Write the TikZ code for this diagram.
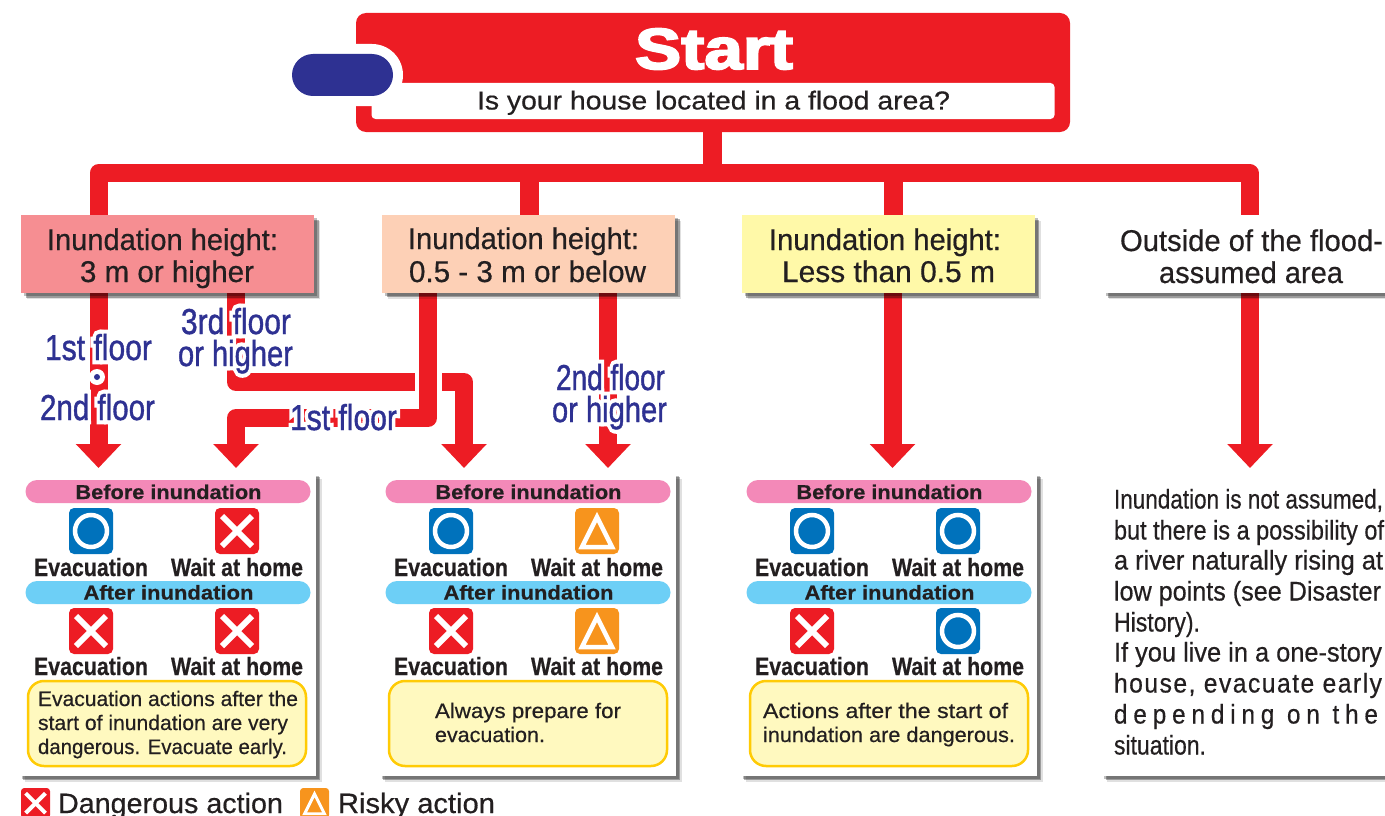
\documentclass[tikz,border=0pt]{standalone}
\usepackage{graphicx}
\usepackage{fontspec}
\setmainfont[FakeBold=0.5]{Liberation Sans}
\newfontfamily\halofont[FakeBold=24]{Liberation Sans}
\newfontfamily\navyfont[FakeBold=1.2]{Liberation Sans}
\newfontfamily\heavyfont[UprightFont=* Bold,FakeBold=3]{Liberation Sans}
\usetikzlibrary{arrows.meta,shadows,backgrounds}
\definecolor{flowred}{HTML}{ED1C24}
\definecolor{navy}{HTML}{2E3192}
\definecolor{ink}{HTML}{231F20}
\definecolor{okblue}{HTML}{0072BC}
\definecolor{warnorange}{HTML}{F7941D}
\definecolor{pinkpill}{HTML}{F389B8}
\definecolor{bluepill}{HTML}{6DCFF6}
\definecolor{notefill}{HTML}{FFF9BF}
\definecolor{noteline}{HTML}{FFCB05}
\tikzset{
  lab/.style={inner sep=0pt,outer sep=0pt,anchor=base west,text=ink},
  softshadow/.style={
    general shadow={fill=black,fill opacity=.12,shadow xshift=6pt,shadow yshift=-6pt},
    general shadow={fill=black,fill opacity=.3,shadow xshift=4.5pt,shadow yshift=-4.5pt},
    general shadow={fill=black,fill opacity=.25,shadow xshift=3pt,shadow yshift=-3pt}},
  headbox/.style={inner sep=0pt,outer sep=0pt,minimum width=293pt,minimum height=78pt,softshadow},
  panelbox/.style={inner sep=0pt,outer sep=0pt,minimum width=297pt,minimum height=303pt,fill=white,softshadow},
  pill/.style={inner sep=0pt,outer sep=0pt,minimum width=285pt,minimum height=23pt,rounded corners=11.5pt},
  notebox/.style={inner sep=0pt,outer sep=0pt,minimum width=278pt,minimum height=85pt,fill=notefill,draw=noteline,line width=2.5pt,rounded corners=16pt},
  flowline/.style={draw=flowred,line width=18pt,line join=round},
  flowarrow/.style={flowline,-{Triangle[length=24pt,width=44pt]}},
}
% name, x, baseline, width, size, text
\newcommand\tl[6]{\node[lab,font=\fontsize{#5}{#5}\selectfont] (#1) at (#2,#3) {\resizebox{#4pt}{\height}{#6}};}
% blue label with white halo: name, x, baseline, width, text
\newcommand\hl[5]{\node[lab,font=\fontsize{36}{36}\selectfont] (#1) at (#2,#3) {\resizebox{#4pt}{\height}{\rlap{\color{white}\halofont #5}\textcolor{navy}{\navyfont #5}}};}
% icon: left, top, scale
\newcommand\iconX[3]{\begin{scope}[shift={(#1,#2)},scale=#3]
  \fill[flowred,rounded corners=5pt*#3] (0,0) rectangle (44,46);
  \draw[white,line width=#3*6pt] (7,8) -- (37,38) (37,8) -- (7,38);
\end{scope}}
\newcommand\iconO[3]{\begin{scope}[shift={(#1,#2)},scale=#3]
  \fill[okblue,rounded corners=5pt*#3] (0,0) rectangle (44,46);
  \draw[white,line width=#3*4.5pt] (22,23) circle[radius=16];
\end{scope}}
\newcommand\iconT[3]{\begin{scope}[shift={(#1,#2)},scale=#3]
  \fill[warnorange,rounded corners=5pt*#3] (0,0) rectangle (44,46);
  \draw[white,line width=#3*4.5pt,miter limit=10] (22,9) -- (37,39) -- (7,39) -- cycle;
\end{scope}}
% result panel: id, dx-panel, dx-content, icon top right, icon bottom right
\newcommand\respanel[5]{
  \node[panelbox] (panel#1) at ({167+#2},624) {};
  \begin{scope}[shift={(#3,0)}]
    \node[pill,fill=pinkpill] (before#1) at (168,491.5) {};
    \node[pill,fill=bluepill] (after#1) at (168,592.5) {};
    \tl{beforet#1}{75.5}{499}{186}{20}{\bfseries Before inundation}
    \tl{aftert#1}{83.5}{599.5}{170}{20}{\bfseries After inundation}
    \iconO{69}{508}{1}
    #4{215}{508}{1}
    \iconX{69}{608}{1}
    #5{215}{608}{1}
    \tl{eva#1}{34}{576}{114}{25}{\bfseries Evacuation}
    \tl{waita#1}{171}{576}{132}{25}{\bfseries Wait at home}
    \tl{evb#1}{34}{675}{114}{25}{\bfseries Evacuation}
    \tl{waitb#1}{171}{675}{132}{25}{\bfseries Wait at home}
    \node[notebox] (note#1) at ({167+min(#3,1)},723.5) {};
  \end{scope}
}
\begin{document}
\begin{tikzpicture}[x=1pt,y=-1pt]
\useasboundingbox (0,0) rectangle (1385,816);
\clip (0,0) rectangle (1385,816);
% start block
\node[inner sep=0pt,outer sep=0pt,minimum width=714pt,minimum height=119pt,fill=flowred,rounded corners=10pt] (start) at (713,72.5) {};
\node[inner sep=0pt,outer sep=0pt,minimum width=683pt,minimum height=36pt,fill=white,rounded corners=4pt] (question) at (713,101) {};
\node[inner sep=0pt,outer sep=0pt,minimum width=121pt,minimum height=62pt,fill=white,rounded corners=31pt] (pillhalo) at (342.5,75) {};
\node[inner sep=0pt,outer sep=0pt,minimum width=101pt,minimum height=42pt,fill=navy,rounded corners=21pt] (pillblue) at (342.5,75) {};
\node[lab,text=white,font=\fontsize{58}{58}\selectfont] (startt) at (635,69) {\resizebox{158pt}{\height}{\heavyfont Start}};
\tl{questiont}{477}{109.5}{473}{26}{Is your house located in a flood area?}
% heading boxes
\node[headbox,fill={rgb,255:red,246;green,142;blue,146}] (h1) at (167.5,254) {};
\node[headbox,fill={rgb,255:red,253;green,208;blue,182}] (h2) at (528.5,253.5) {};
\node[headbox,fill={rgb,255:red,255;green,249;blue,168}] (h3) at (888,254) {};
\node[headbox,fill=white,minimum width=300pt] (h4) at (1253,254) {};
\tl{h1a}{47}{250}{231}{30}{Inundation height:}
\tl{h1b}{80}{282}{174}{30}{3 m or higher}
\tl{h2a}{408}{249}{231}{30}{Inundation height:}
\tl{h2b}{409}{282}{237}{30}{0.5 - 3 m or below}
\tl{h3a}{769}{250}{232}{30}{Inundation height:}
\tl{h3b}{782}{282}{213}{30}{Less than 0.5 m}
\tl{h4a}{1120}{251}{263}{30}{Outside of the flood-}
\tl{h4b}{1159}{283}{184}{30}{assumed area}
% connector anchors
\coordinate (stem) at (712.5,173);
\coordinate (barL) at (98.5,173);
\coordinate (barM1) at (529.5,173);
\coordinate (barM2) at (893,173);
\coordinate (barR) at (1249.5,173);
\coordinate (tip1) at (98.5,468);
\coordinate (tip2) at (236,468);
\coordinate (tip3) at (464,468);
\coordinate (tip4) at (608,468);
\coordinate (tip5) at (892.5,468);
\coordinate (tip6) at (1250,468);
\coordinate (upper) at (236,382);
\coordinate (hopL) at (415,382);
\coordinate (hopR) at (442,382);
\coordinate (hopC) at (464,382);
\coordinate (lower) at (428,418);
\coordinate (lowerB) at (236,418);
\begin{pgfonlayer}{background}
  \draw[flowline] (barL |- h1.north) -- (barL) -- (barR) -- (barR |- h4.north);
  \draw[flowred,line width=19pt] (start.south -| stem) -- (stem);
  \draw[flowred,line width=19pt] (barM1) -- (barM1 |- h2.north);
  \draw[flowred,line width=19pt] (barM2) -- (barM2 |- h3.north);
  \draw[flowarrow] (tip1 |- h1.south) -- (tip1);
  \draw[flowline] (upper |- h1.south) -- (upper) -- (hopL);
  \draw[flowarrow] (hopR) -- (hopC) -- (tip3);
  \draw[flowarrow] (lower |- h2.south) -- (lower) -- (lowerB) -- (tip2);
  \draw[flowarrow] (tip4 |- h2.south) -- (tip4);
  \draw[flowarrow] (tip5 |- h3.south) -- (tip5);
  \draw[flowarrow] (tip6 |- h4.south) -- (tip6);
\end{pgfonlayer}
% floor labels
\hl{f1}{45}{360}{107}{1st floor}
\hl{f2}{40}{420}{115}{2nd floor}
\hl{f3b}{178}{366}{115}{or higher}
\hl{f3}{181}{334}{110}{3rd floor}
\hl{f4}{290}{430}{107}{1st floor}
\hl{f5b}{552}{422}{115}{or higher}
\hl{f5}{556}{390}{109}{2nd floor}
\node[circle,fill=white,inner sep=0pt,minimum size=16pt] (dotw) at (97,377) {};
\node[circle,fill=navy,inner sep=0pt,minimum size=6pt] (dotb) at (97,377) {};
% panels
\respanel{a}{0}{0}{\iconX}{\iconX}
\respanel{b}{360}{360}{\iconT}{\iconT}
\respanel{c}{721}{721}{\iconO}{\iconO}
\tl{na1}{38}{706}{260}{21}{Evacuation actions after the}
\tl{na2}{38}{730}{250}{21}{start of inundation are very}
\tl{na3}{38}{754}{249}{21}{dangerous. Evacuate early.}
\tl{nb1}{435}{718}{186}{21}{Always prepare for}
\tl{nb2}{435}{742}{110}{21}{evacuation.}
\tl{nc1}{763}{718}{245}{21}{Actions after the start of}
\tl{nc2}{763}{742}{252}{21}{inundation are dangerous.}
% outside panel
\node[panelbox,minimum width=310pt] (paneld) at (1256,624) {};
\tl{d1}{1114}{508.5}{269}{27}{Inundation is not assumed,}
\tl{d2}{1114}{539.5}{270}{27}{but there is a possibility of}
\tl{d3}{1114}{569.5}{269}{27}{a river naturally rising at}
\tl{d4}{1114}{600.5}{267}{27}{low points (see Disaster}
\tl{d5}{1114}{631.5}{86}{27}{History).}
\tl{d6}{1114}{661.5}{268}{27}{If you live in a one-story}
\tl{d7}{1114}{692.5}{268}{27}{{\addfontfeature{LetterSpace=6}house, evacuate early}}
\tl{d8}{1114}{723.5}{264}{27}{{\addfontfeature{LetterSpace=24}depending on the}}
\tl{d9}{1114}{754.5}{92}{27}{situation.}
% legend
\iconX{21}{788}{.66}
\tl{lg1}{58}{813}{225}{28}{Dangerous action}
\iconT{300}{788}{.66}
\tl{lg2}{338}{813}{157}{28}{Risky action}
\end{tikzpicture}
\end{document}
